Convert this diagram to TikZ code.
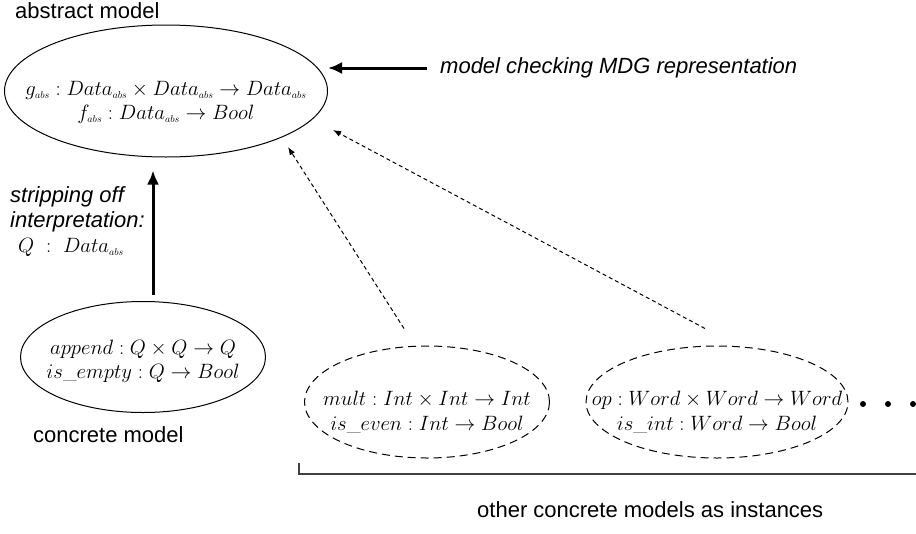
\documentclass[tikz,border=0pt]{standalone}
\usepackage{fontspec}
\setsansfont{Liberation Sans}
\usetikzlibrary{positioning}
\usetikzlibrary{shapes.geometric,calc}
\usetikzlibrary{arrows.meta}

\tikzset{
	model/.style={ellipse,draw=black,line width=1pt,inner sep=0pt},
	inst/.style={model,dash pattern=on 8pt off 5pt},
	fun/.style={align=center,inner sep=0pt,font=\fontsize{20}{24}\selectfont},
	caption/.style={anchor=base west,inner sep=0pt,font=\sffamily\fontsize{22}{26}\selectfont},
	slanted/.style={caption,font=\sffamily\itshape\fontsize{22}{26}\selectfont},
	bigarrow/.style={line width=3pt,-{Latex[length=14pt,width=12pt]}},
	instarrow/.style={line width=1pt,dash pattern=on 4pt off 3pt,-{Latex[length=8pt,width=6pt]}},
	bracket/.style={draw=black!75,line width=1.5pt}
}
\newcommand{\ab}{_{\scriptscriptstyle abs}}

\begin{document}
\begin{tikzpicture}[x=1pt,y=-1pt]
	\useasboundingbox (0,0) rectangle (916,533);
	\node[model,minimum width=323pt,minimum height=132pt] (abstract) at (166,91) {};
	\node[fun] (absfun) at (166,102) {$g\ab : Data\ab\times Data\ab\rightarrow Data\ab$\\[0pt] $f\ab : Data\ab\rightarrow Bool$};
	\node[caption] (abslabel) at (15,18) {abstract model};

	\node[model,minimum width=245pt,minimum height=111pt] (concrete) at (143,357) {};
	\node[fun] (confun) at (143,361) {$append : Q\times Q\rightarrow Q$\\[0pt] $is\_empty : Q\rightarrow Bool$};
	\node[caption] (conlabel) at (33,442) {concrete model};

	\node[inst,minimum width=245pt,minimum height=112pt] (mult) at (427,402) {};
	\node[fun] (multfun) at (427,412) {$mult : Int\times Int\rightarrow Int$\\[1pt] $is\_even : Int\rightarrow Bool$};
	\node[inst,minimum width=262pt,minimum height=112pt] (op) at (717,402) {};
	\node[fun] (opfun) at (717,412) {$op : Word\times Word\rightarrow Word$\\[1pt] $is\_int : Word\rightarrow Bool$};
	\foreach \x in {863,888,913}
		\fill (\x,404) circle (3pt);

	\node[slanted] (mdg) at (440,73) {model checking MDG representation};
	\coordinate (mdgtip) at (328,68);
	\draw[bigarrow] ($(mdg.base west)+(-13,-5)$) -- (mdgtip);

	\node[slanted] (strip) at (10,202) {stripping off};
	\node[slanted] (interp) at (10,227) {interpretation:};
	\node[caption,font=\fontsize{20}{24}\selectfont] (qtype) at (18,252) {$Q\ :\ Data\ab$};
	\draw[bigarrow] ($(concrete.north)+(10,-6)$) -- ($(abstract.south)+(-13,13)$);

	\coordinate (tipmult) at (288,147);
	\coordinate (tipop) at (333,130);
	\draw[instarrow] ($(mult.north)+(-23,-17)$) -- (tipmult);
	\draw[instarrow] ($(op.north)+(-12,-17)$) -- (tipop);

	\draw[bracket] (299,463) -- (299,474) -- (916,474);
	\node[caption] (others) at (477,517) {other concrete models as instances};
\end{tikzpicture}
\end{document}
